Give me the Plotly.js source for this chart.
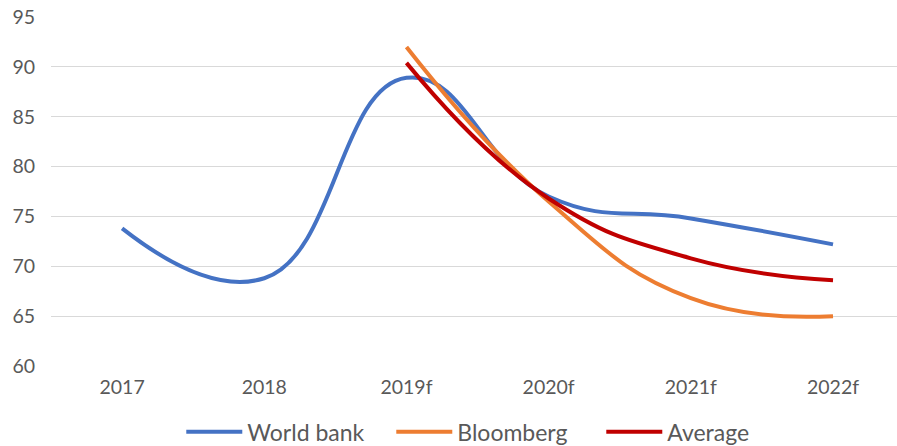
<!DOCTYPE html>
<html>
<head>
<meta charset="utf-8">
<script src="https://cdn.plot.ly/plotly-3.0.1.min.js"></script>
<style>
  html, body { margin: 0; padding: 0; background: #fff; }
  #chart { width: 897px; height: 446px; }
</style>
</head>
<body>
<div id="chart"></div>
<script>
// Categories along the x axis
const years = ['2017', '2018', '2019f', '2020f', '2021f', '2022f'];

// Forecast series (null where a source has no value)
const worldBank = [73.8, 68.8, 88.9, 77.0, 74.8, 72.2];
const bloomberg = [null, null, 92.0, 76.5, 66.8, 65.0];
const average   = [null, null, 90.4, 76.8, 70.8, 68.6];

// Y axis ticks
const yTicks = [60, 65, 70, 75, 80, 85, 90, 95];

const lineShape = { shape: 'spline', smoothing: 1.3, width: 4 };

const traces = [
  { x: years, y: worldBank, name: 'World bank', mode: 'lines',
    line: Object.assign({ color: '#4472C4' }, lineShape) },
  { x: years, y: bloomberg, name: 'Bloomberg', mode: 'lines',
    line: Object.assign({ color: '#ED7D31' }, lineShape) },
  { x: years, y: average, name: 'Average', mode: 'lines',
    line: Object.assign({ color: '#C00000' }, lineShape) }
];

const family = 'Lato, "Open Sans", sans-serif';
const tickFont = { family: family, size: 19.5, color: '#595959' };

const layout = {
  width: 897,
  height: 446,
  margin: { l: 51, r: 0, t: 17, b: 80 },
  paper_bgcolor: '#ffffff',
  plot_bgcolor: '#ffffff',
  font: tickFont,
  showlegend: true,
  legend: {
    orientation: 'h',
    x: 0.154, xanchor: 'left',
    yref: 'container', y: 0.032, yanchor: 'middle',
    font: { family: family, size: 23, color: '#595959' },
    itemwidth: 56,
    entrywidth: 139,
    tracegroupgap: 0
  },
  xaxis: {
    type: 'category',
    range: [-0.5, 5.45],
    showgrid: false,
    zeroline: false,
    showline: false,
    ticks: '',
    ticklabelstandoff: 7,
    tickfont: tickFont,
    fixedrange: true
  },
  yaxis: {
    range: [60, 95],
    tickvals: yTicks,
    showgrid: true,
    gridcolor: '#d9d9d9',
    gridwidth: 1,
    zeroline: false,
    showline: false,
    ticks: '',
    ticklabelstandoff: 15,
    tickfont: tickFont,
    fixedrange: true
  }
};

Plotly.newPlot('chart', traces, layout, { displayModeBar: false, staticPlot: true });
</script>
</body>
</html>
